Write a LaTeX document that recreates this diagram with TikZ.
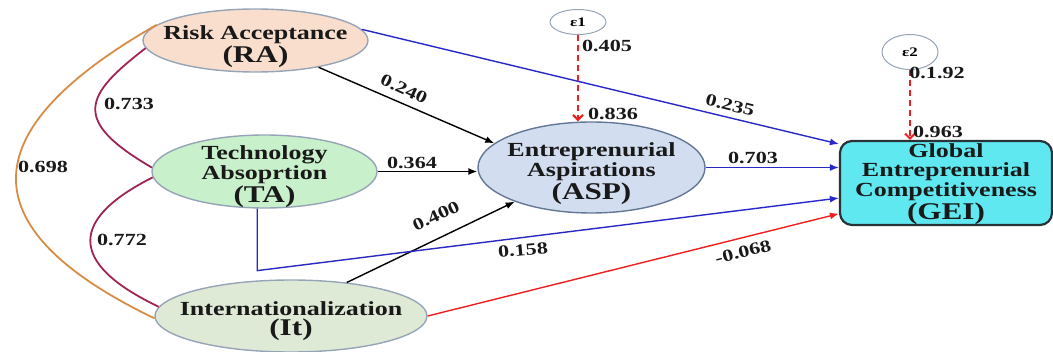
\documentclass[tikz,border=0pt]{standalone}
\usepackage{fontspec}
\setmainfont{Liberation Serif}[FakeStretch=1.3]
\usepackage{tikz}
\usetikzlibrary{arrows.meta}
\usetikzlibrary{shapes}

\definecolor{raFill}{RGB}{250,222,205}
\definecolor{taFill}{RGB}{200,240,202}
\definecolor{itFill}{RGB}{222,234,214}
\definecolor{aspFill}{RGB}{210,222,240}
\definecolor{geiFill}{RGB}{96,232,240}
\definecolor{rimGray}{RGB}{150,164,184}
\definecolor{aspRim}{RGB}{100,120,150}
\definecolor{geiRim}{RGB}{40,50,55}
\definecolor{nameInk}{RGB}{25,25,25}
\definecolor{pathBlue}{RGB}{40,40,200}
\definecolor{pathRed}{RGB}{240,30,30}
\definecolor{corMaroon}{RGB}{160,35,85}
\definecolor{corOrange}{RGB}{215,140,70}

\newcommand{\abbrline}[1]{{\fontsize{12}{10}\selectfont #1}}

\tikzset{
  latent/.style={ellipse, draw=rimGray, line width=0.7pt, inner sep=0pt},
  nametext/.style={align=center, font=\fontsize{10}{10.3}\selectfont\bfseries, text=nameInk, inner sep=0pt},
  errnode/.style={ellipse, draw=rimGray, line width=0.5pt, inner sep=0.5pt, font=\fontsize{6.5}{7}\selectfont\bfseries},
  coef/.style={font=\fontsize{8.5}{9}\selectfont\bfseries, text=nameInk, inner sep=0pt},
  arr/.style={-{Latex[length=4.5pt,width=3.5pt]}, line width=0.7pt},
  resid/.style={-{Straight Barb[length=2.5pt,width=5pt]}, draw=pathRed, line width=1pt, dash pattern=on 3pt off 2pt},
  cor/.style={line width=0.9pt}
}

\begin{document}
\begin{tikzpicture}[x=0.5pt, y=-0.5pt]
            \useasboundingbox (0,0) rectangle (1053,352);

            \draw (255.5,40.5) node[latent, fill=raFill, minimum width=112.5pt, minimum height=31.5pt]   (ra) {};
            \draw (264.5,171.5) node[latent, fill=taFill, minimum width=112.5pt, minimum height=36.5pt]  (ta) {};
            \draw (291,316) node[latent, fill=itFill, minimum width=136pt, minimum height=36pt]          (it) {};
            \draw (591.5,167.5) node[latent, fill=aspFill, draw=aspRim, minimum width=113.5pt, minimum height=45.5pt] (asp) {};
            \draw (946,183) node[draw=geiRim, fill=geiFill, rounded corners=6pt, line width=1.1pt,
                  minimum width=106pt, minimum height=42pt, inner sep=0pt] (gei) {};
            \draw (578,22) node[errnode, minimum width=28pt, minimum height=12.5pt]                     (e1) {ε1};
            \draw (910,52) node[errnode, minimum width=28pt, minimum height=17.5pt]                     (e2) {ε2};

            \draw (ra) node[nametext, yshift=-3pt]  (ra-t)  {Risk Acceptance\\\abbrline{(RA)}};
            \draw (ta) node[nametext, yshift=-2.5pt]  (ta-t)  {Technology\\Absoprtion\\\abbrline{(TA)}};
            \draw (it) node[nametext, yshift=-2.5pt]  (it-t)  {Internationalization\\\abbrline{(It)}};
            \draw (asp) node[nametext, yshift=-3pt] (asp-t) {Entreprenurial\\Aspirations\\\abbrline{(ASP)}};
            \draw (gei) node[nametext, font=\fontsize{10}{9.8}\selectfont\bfseries, yshift=-0.5pt] (gei-t) {Global\\Entreprenurial\\Competitiveness\\\abbrline{(GEI)}};

            % correlations
            \draw[cor, corMaroon] (ra.184) .. controls (85,95) and (70,120) .. (ta.178);
            \draw[cor, corMaroon] (ta.183) .. controls (72,218) and (65,262) .. (it.176);
            \draw[cor, corOrange] (ra.171) .. controls (-10,120) and (-50,220) .. (it.181);

            % paths
            \draw[arr] (ra.-23) -- (asp.166);
            \draw[arr] (ta.east) -- (ta.east -| asp.west);
            \draw[arr] (it.31) -- (asp.204);
            \draw[arr, pathBlue] (ra.6) -- (gei.160);
            \draw[arr, pathBlue] (asp.east) -- (asp.east -| gei.west);
            \draw[arr, pathBlue] (ta.-101) -- ++(0,62) -- (gei.188);
            \draw[arr, pathRed] (it.east) -- (gei.196);

            \draw[resid] (e1.south) -- (e1.south |- asp.north);
            \draw[resid] (e2.south) -- (e2.south |- gei.north);

            \draw (129,104) node[coef] (c-ra-ta) {0.733};
            \draw (43,167) node[coef]  (c-ra-it) {0.698};
            \draw (122,240) node[coef] (c-ta-it) {0.772};
            \draw (404,89) node[coef, rotate=-25]  (c-ra-asp) {0.240};
            \draw (412,163) node[coef]             (c-ta-asp) {0.364};
            \draw (436,216) node[coef, rotate=25]  (c-it-asp) {0.400};
            \draw (730,105) node[coef, rotate=-14] (c-ra-gei) {0.235};
            \draw (753,158) node[coef]             (c-asp-gei) {0.703};
            \draw (523,250) node[coef, rotate=5]   (c-ta-gei) {0.158};
            \draw (743,252) node[coef, rotate=14]  (c-it-gei) {-0.068};
            \draw (607,46) node[coef]  (c-e1) {0.405};
            \draw (613,114) node[coef] (c-asp-r) {0.836};
            \draw (937,73) node[coef]  (c-e2) {0.1.92};
            \draw (938,132) node[coef] (c-gei-r) {0.963};

            \end{tikzpicture}
\end{document}
